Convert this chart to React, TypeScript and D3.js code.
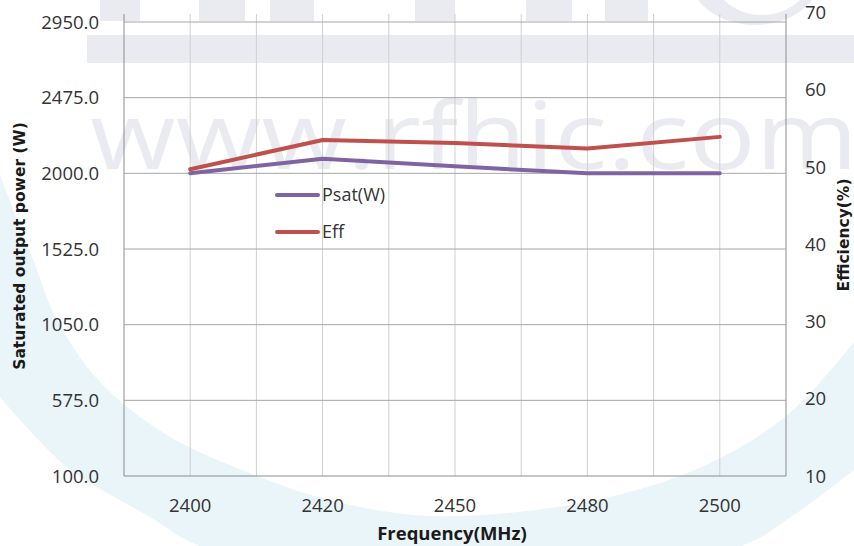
import React from "react";
import * as d3 from "d3";

const freqs = ["2400", "2420", "2450", "2480", "2500"];
const psat = [2000, 2092, 2044, 2000, 2000];
const eff = [49.7, 53.5, 53.1, 52.4, 53.9];
const leftTicks = [100, 575, 1050, 1525, 2000, 2475, 2950];
const rightTicks = [10, 20, 30, 40, 50, 60, 70];
const seriesNames = ["Psat(W)", "Eff"];
const seriesColors = ["#8064a2", "#c0504d"];

const W = 854;
const H = 546;
const PL = 124;
const PR = 786;
const PT = 22;
const PB = 476;

// watermark geometry (decoration)
const bandInner: [number, number][] = [
  [0, 175], [18, 222], [34, 262], [56, 318], [100, 382], [167, 435], [257, 476],
  [333, 501], [430, 516], [557, 507], [657, 484], [724, 456], [791, 412], [854, 342],
];
const bandOuter: [number, number][] = [
  [854, 470], [791, 517], [741, 546], [460, 600], [200, 546], [150, 517], [67, 467], [0, 397],
];
const logoBlocks: [number, number][] = [
  [100, 140], [199, 245], [270, 314], [415, 455], [526, 572], [605, 648],
];

export default function App() {
  const x = d3.scaleBand<string>().domain(freqs).range([PL, PR]);
  const bw = x.bandwidth();
  const cx = (f: string) => (x(f) as number) + bw / 2;
  const yL = d3.scaleLinear().domain([100, 2950]).range([PB, PT]);
  const yR = d3.scaleLinear().domain([10, 70]).range([PB, 12.5]);

  const vLines: number[] = [];
  freqs.forEach((f) => {
    vLines.push(x(f) as number);
    vLines.push(cx(f));
  });
  vLines.push(PR);

  const lineL = d3
    .line<number>()
    .x((_, i) => cx(freqs[i]))
    .y((d) => yL(d));
  const lineR = d3
    .line<number>()
    .x((_, i) => cx(freqs[i]))
    .y((d) => yR(d));

  const curve = d3.line().curve(d3.curveCatmullRom);
  const innerPath = curve(bandInner) as string;
  const outerPath = (curve(bandOuter) as string).replace(/^M/, "L");
  const bandPath = innerPath + outerPath + "Z";

  const wm = "#e9ebf0";
  const tickFont = "'Open Sans', sans-serif";
  const tickColor = "#333333";

  return (
    <svg
      width={W}
      height={H}
      style={{ position: "absolute", left: 0, top: 0, background: "#ffffff" }}
    >
      <rect x={0} y={0} width={W} height={H} fill="#ffffff" />
      {/* watermark */}
      <path d={bandPath} fill="#e9f5f8" />
      {logoBlocks.map(([a, b], i) => (
        <rect key={i} x={a} y={0} width={b - a} height={21} fill={wm} />
      ))}
      <ellipse cx={755} cy={-30} rx={68} ry={55} fill={wm} />
      <ellipse cx={762} cy={-32} rx={52} ry={47} fill="#ffffff" />
      <rect x={87} y={35} width={767} height={28} fill={wm} />
      <text
        x={90}
        y={169}
        fontFamily="'Open Sans', sans-serif"
        fontSize={94}
        fill={wm}
        textLength={768}
        lengthAdjust="spacingAndGlyphs"
      >
        www.rfhic.com
      </text>

      {/* vertical gridlines */}
      {vLines.map((v, i) => (
        <line
          key={"v" + i}
          x1={v}
          x2={v}
          y1={14}
          y2={PB}
          stroke={i === 0 || i === vLines.length - 1 ? "#8c8c8c" : "#cfcfcf"}
          strokeWidth={1}
        />
      ))}
      {/* horizontal gridlines */}
      {leftTicks.map((t) => (
        <line
          key={"h" + t}
          x1={PL}
          x2={PR}
          y1={yL(t)}
          y2={yL(t)}
          stroke={t === 100 ? "#8c8c8c" : "#a6a6a6"}
          strokeWidth={1}
        />
      ))}

      {/* left ticks */}
      {leftTicks.map((t) => (
        <text
          key={"lt" + t}
          x={99}
          y={yL(t)}
          dy="0.36em"
          textAnchor="end"
          fontFamily={tickFont}
          fontSize={18.5}
          fill={tickColor}
        >
          {d3.format(".1f")(t)}
        </text>
      ))}
      {/* right ticks */}
      {rightTicks.map((t) => (
        <text
          key={"rt" + t}
          x={805}
          y={yR(t)}
          dy="0.36em"
          textAnchor="start"
          fontFamily={tickFont}
          fontSize={18.5}
          fill={tickColor}
        >
          {t}
        </text>
      ))}
      {/* x ticks */}
      {freqs.map((f) => (
        <text
          key={"xt" + f}
          x={cx(f)}
          y={505}
          dy="0.36em"
          textAnchor="middle"
          fontFamily={tickFont}
          fontSize={18.5}
          fill={tickColor}
        >
          {f}
        </text>
      ))}

      {/* axis titles */}
      <text
        transform="translate(25,246) rotate(-90)"
        textAnchor="middle"
        fontFamily="'DejaVu Sans', sans-serif"
        fontWeight="bold"
        fontSize={15.5}
        fill="#1a1a1a"
      >
        Saturated output power (W)
      </text>
      <text
        transform="translate(849,235) rotate(-90)"
        textAnchor="middle"
        fontFamily="'DejaVu Sans', sans-serif"
        fontWeight="bold"
        fontSize={15.5}
        fill="#1a1a1a"
      >
        Efficiency(%)
      </text>
      <text
        x={452}
        y={540}
        textAnchor="middle"
        fontFamily="'Open Sans', sans-serif"
        fontWeight="bold"
        fontSize={18.5}
        fill="#1a1a1a"
      >
        Frequency(MHz)
      </text>

      {/* series */}
      <path
        d={lineL(psat) as string}
        fill="none"
        stroke={seriesColors[0]}
        strokeWidth={4}
        strokeLinecap="round"
        strokeLinejoin="round"
      />
      <path
        d={lineR(eff) as string}
        fill="none"
        stroke={seriesColors[1]}
        strokeWidth={4}
        strokeLinecap="round"
        strokeLinejoin="round"
      />

      {/* legend */}
      {seriesNames.map((n, i) => (
        <g key={n} transform={`translate(0,${195 + i * 37})`}>
          <line
            x1={277}
            x2={318}
            y1={0}
            y2={0}
            stroke={seriesColors[i]}
            strokeWidth={4}
            strokeLinecap="round"
          />
          <text
            x={322}
            y={0}
            dy="0.36em"
            fontFamily="'Open Sans', sans-serif"
            fontSize={18}
            fill="#333333"
          >
            {n}
          </text>
        </g>
      ))}
    </svg>
  );
}
